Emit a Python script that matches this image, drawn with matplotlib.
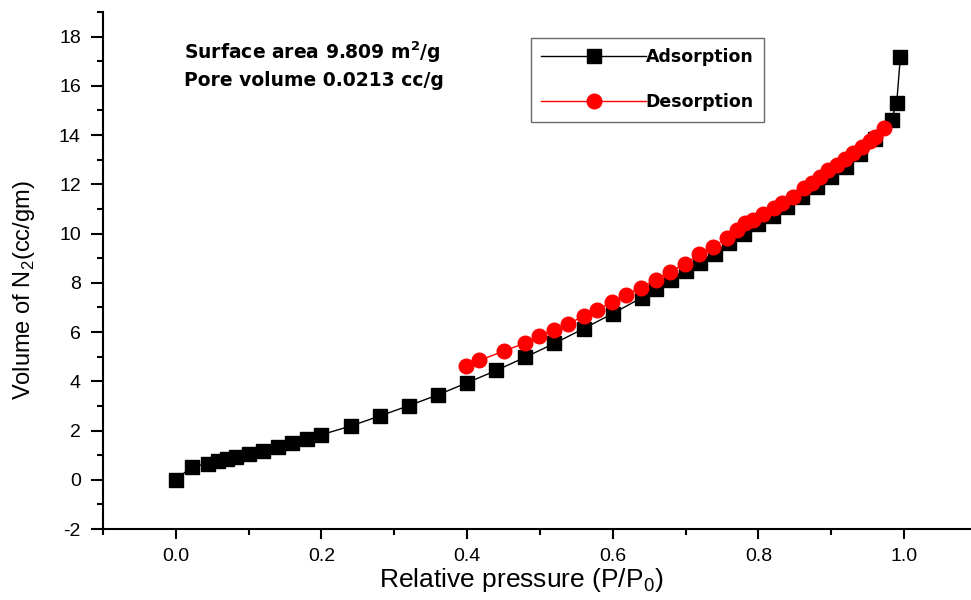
import matplotlib
matplotlib.use("Agg")
import matplotlib.pyplot as plt
from matplotlib.ticker import MultipleLocator

ads_x = [0.0, 0.022, 0.044, 0.058, 0.07, 0.083, 0.10, 0.12, 0.14, 0.16, 0.18, 0.20,
         0.24, 0.28, 0.32, 0.36, 0.40, 0.44, 0.48, 0.52, 0.56, 0.60, 0.64, 0.66,
         0.68, 0.70, 0.72, 0.74, 0.76, 0.78, 0.80, 0.82, 0.84, 0.86, 0.88, 0.90,
         0.92, 0.94, 0.96, 0.983, 0.99, 0.995]
ads_y = [0.0, 0.53, 0.65, 0.76, 0.84, 0.91, 1.03, 1.18, 1.34, 1.49, 1.67, 1.83,
         2.18, 2.59, 3.01, 3.45, 3.94, 4.44, 4.98, 5.54, 6.14, 6.75, 7.40, 7.76,
         8.10, 8.47, 8.82, 9.19, 9.60, 9.98, 10.38, 10.72, 11.08, 11.48, 11.88, 12.28,
         12.72, 13.22, 13.85, 14.62, 15.32, 17.17]

des_x = [0.399, 0.417, 0.45, 0.479, 0.499, 0.519, 0.539, 0.56, 0.579, 0.599, 0.618,
         0.639, 0.659, 0.679, 0.699, 0.719, 0.738, 0.757, 0.770, 0.782, 0.793, 0.807,
         0.821, 0.832, 0.847, 0.862, 0.873, 0.885, 0.896, 0.908, 0.919, 0.930, 0.942,
         0.953, 0.960, 0.972]
des_y = [4.64, 4.85, 5.22, 5.55, 5.82, 6.09, 6.34, 6.64, 6.91, 7.22, 7.52,
         7.80, 8.13, 8.44, 8.78, 9.15, 9.46, 9.84, 10.14, 10.41, 10.57, 10.79,
         11.02, 11.25, 11.50, 11.84, 12.06, 12.31, 12.58, 12.79, 13.02, 13.29, 13.53,
         13.78, 13.92, 14.28]

x_ticks = [0.0, 0.2, 0.4, 0.6, 0.8, 1.0]
y_ticks = [-2, 0, 2, 4, 6, 8, 10, 12, 14, 16, 18]

plt.rcParams['font.family'] = ['Liberation Sans', 'DejaVu Sans']
plt.rcParams['mathtext.fontset'] = 'custom'
plt.rcParams['mathtext.rm'] = 'Liberation Sans'
plt.rcParams['mathtext.bf'] = 'DejaVu Sans:bold'

fig = plt.figure(figsize=(9.71, 6.0), dpi=100)
ax = fig.add_axes([103/971, 1-529/600, 1-103/971, (529-12)/600])

ax.plot(ads_x, ads_y, color='black', lw=1, marker='s', ms=9.5, mfc='black',
        mec='black', label='Adsorption', zorder=2)
ax.plot(des_x, des_y, color='red', lw=1, marker='o', ms=10.5, mfc='red',
        mec='red', label='Desorption', zorder=3)

ax.set_xlim(-0.1, 1.092)
ax.set_ylim(-2, 19)
ax.set_xticks(x_ticks)
ax.set_xticklabels([f"{v:.1f}" for v in x_ticks], fontsize=14)
ax.set_yticks(y_ticks)
ax.set_yticklabels([str(v) for v in y_ticks], fontsize=14)
ax.xaxis.set_minor_locator(MultipleLocator(0.1))
ax.yaxis.set_minor_locator(MultipleLocator(1))
for s in ['top', 'right']:
    ax.spines[s].set_visible(False)
for s in ['left', 'bottom']:
    ax.spines[s].set_linewidth(1.5)
ax.tick_params(axis='y', which='major', direction='out', length=9, width=1.5, pad=7)
ax.tick_params(axis='y', which='minor', direction='out', length=4.5, width=1.5)
ax.tick_params(axis='x', which='major', direction='out', length=7.5, width=1.5, pad=6)
ax.tick_params(axis='x', which='minor', direction='out', length=4, width=1.5)

ax.set_xlabel("Relative pressure (P/P$_0$)", fontsize=19)
ax.xaxis.set_label_coords((521-103)/868, (529-566)/517)
ax.set_ylabel("Volume of N$_2$(cc/gm)", fontsize=17)
ax.yaxis.set_label_coords((37-103)/868, (529-290)/517)

bold = {'family': ['DejaVu Sans'], 'weight': 'bold', 'size': 13.5}
fig.text(184/971, 1-52/600, "Surface area 9.809 m$\\mathbf{^2}$/g",
         fontdict=bold, va='center', ha='left')
fig.text(184/971, 1-80/600, "Pore volume 0.0213 cc/g",
         fontdict=bold, va='center', ha='left')

leg = ax.legend(loc='upper left', bbox_to_anchor=(531/971, 1-38/600),
                bbox_transform=fig.transFigure, frameon=True, fancybox=False,
                edgecolor='#444444', handlelength=6.0, handletextpad=0.0,
                labelspacing=1.55, borderpad=0.6, borderaxespad=0,
                prop={'family': ['DejaVu Sans'], 'weight': 'bold', 'size': 12.5})
leg.get_frame().set_linewidth(1.0)

fig.savefig("out.png", dpi=100)
